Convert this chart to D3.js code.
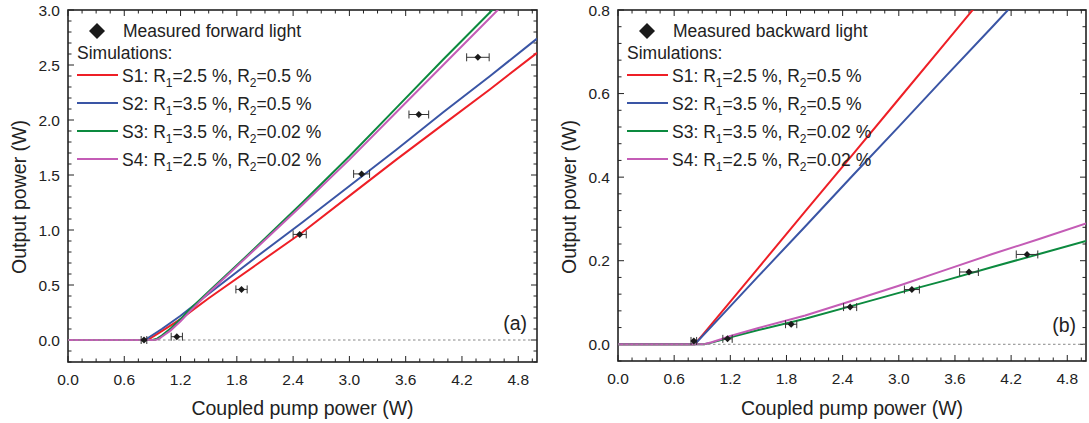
<!DOCTYPE html>
<html>
<head>
<meta charset="utf-8">
<script src="https://cdn.jsdelivr.net/npm/d3@7/dist/d3.min.js"></script>
<style>
  body { margin: 0; background: #fff; }
  svg { display: block; font-family: "Liberation Sans", Arial, sans-serif; }
</style>
</head>
<body>
<div id="chart"></div>
<script>
// ---- data ----
var seriesNames = ["S1", "S2", "S3", "S4"];
var seriesLabels = [
    ["2.5", "0.5"],
    ["3.5", "0.5"],
    ["3.5", "0.02"],
    ["2.5", "0.02"]
];
var seriesColors = ["#ee1f26", "#3a55a5", "#0c8a3f", "#c45cb6"];

// forward light (panel a), simulations
var fwdS1 = [[0, 0], [0.85, 0], [1.0, 0.08], [1.2, 0.19], [1.5, 0.38], [2.0, 0.68], [2.5, 0.98], [3.0, 1.31], [3.5, 1.64], [4.0, 1.96], [4.5, 2.28], [5.0, 2.61]];
var fwdS2 = [[0, 0], [0.82, 0], [1.0, 0.10], [1.2, 0.22], [1.5, 0.42], [2.0, 0.75], [2.5, 1.07], [3.0, 1.40], [3.5, 1.73], [4.0, 2.07], [4.5, 2.40], [5.0, 2.74]];
var fwdS3 = [[0, 0], [0.9, 0], [0.95, 0.012], [1.0, 0.04], [1.1, 0.11], [1.2, 0.19], [1.3, 0.28], [1.5, 0.44], [2.0, 0.84], [2.5, 1.25], [3.0, 1.67], [3.5, 2.11], [4.0, 2.55], [4.5, 2.98], [5.0, 3.41]];
var fwdS4 = [[0, 0], [0.93, 0], [0.97, 0.01], [1.0, 0.03], [1.1, 0.09], [1.2, 0.17], [1.3, 0.26], [1.5, 0.43], [2.0, 0.83], [2.5, 1.23], [3.0, 1.64], [3.5, 2.07], [4.0, 2.50], [4.5, 2.93], [5.0, 3.36]];
// forward light, measured (x, y, x error)
var fwdPump = [0.81, 1.16, 1.85, 2.47, 3.13, 3.74, 4.37];
var fwdPower = [0.0, 0.03, 0.46, 0.96, 1.51, 2.05, 2.57];
var fwdPumpErr = [0.03, 0.06, 0.06, 0.07, 0.085, 0.105, 0.12];

// backward light (panel b), simulations
var bwdS1 = [[0, 0], [0.82, 0], [1.0, 0.048], [1.5, 0.183], [2.0, 0.318], [2.5, 0.452], [3.0, 0.587], [3.5, 0.722], [4.0, 0.857]];
var bwdS2 = [[0, 0], [0.82, 0], [1.0, 0.043], [1.5, 0.163], [2.0, 0.282], [2.5, 0.402], [3.0, 0.521], [3.5, 0.641], [4.0, 0.760], [4.5, 0.880]];
var bwdS3 = [[0, 0], [0.92, 0], [1.0, 0.004], [1.1, 0.010], [1.2, 0.017], [1.5, 0.034], [2.0, 0.061], [2.5, 0.092], [3.0, 0.123], [3.5, 0.153], [4.0, 0.185], [4.5, 0.216], [5.0, 0.247]];
var bwdS4 = [[0, 0], [0.92, 0], [1.0, 0.005], [1.1, 0.012], [1.2, 0.020], [1.5, 0.039], [2.0, 0.069], [2.5, 0.104], [3.0, 0.140], [3.5, 0.178], [4.0, 0.216], [4.5, 0.252], [5.0, 0.289]];
// backward light, measured
var bwdPump = [0.81, 1.17, 1.85, 2.48, 3.14, 3.75, 4.37];
var bwdPower = [0.008, 0.013, 0.048, 0.089, 0.131, 0.173, 0.215];
var bwdPumpErr = [0.03, 0.05, 0.06, 0.07, 0.08, 0.10, 0.115];

var xMajor = [0.0, 0.6, 1.2, 1.8, 2.4, 3.0, 3.6, 4.2, 4.8];

var W = 1089, H = 423;
var svg = d3.select("#chart").append("svg")
    .attr("width", W)
    .attr("height", H);

function drawPanel(cfg){
    var x = d3.scaleLinear().domain([0, 5]).range([cfg.left, cfg.right]);
    var y = d3.scaleLinear().domain(cfg.yDomain).range([cfg.bottom, cfg.top]);
    var g = svg.append("g");

    var clipId = "clip_" + cfg.id;
    g.append("clipPath").attr("id", clipId)
        .append("rect")
        .attr("x", cfg.left).attr("y", cfg.top)
        .attr("width", cfg.right - cfg.left)
        .attr("height", cfg.bottom - cfg.top);

    // ticks, all pointing inwards
    var xMinor = d3.range(0, 5.001, 0.15);
    var yMinor = d3.range(cfg.yDomain[0], cfg.yDomain[1] + 1e-6, cfg.yMinorStep);
    var tk = g.append("g").attr("stroke", "#222").attr("stroke-width", 1);
    function isMajor(v, list){ return list.some(function(m){ return Math.abs(m - v) < 1e-6; }); }
    xMinor.forEach(function(v){
        var len = isMajor(v, xMajor) ? 6 : 3.5;
        tk.append("line").attr("x1", x(v)).attr("x2", x(v))
            .attr("y1", cfg.bottom).attr("y2", cfg.bottom - len);
        tk.append("line").attr("x1", x(v)).attr("x2", x(v))
            .attr("y1", cfg.top).attr("y2", cfg.top + len);
    });
    yMinor.forEach(function(v){
        var len = isMajor(v, cfg.yMajor) ? 6 : 3.5;
        tk.append("line").attr("y1", y(v)).attr("y2", y(v))
            .attr("x1", cfg.left).attr("x2", cfg.left + len);
        tk.append("line").attr("y1", y(v)).attr("y2", y(v))
            .attr("x1", cfg.right).attr("x2", cfg.right - len);
    });

    // frame
    g.append("rect")
        .attr("x", cfg.left).attr("y", cfg.top)
        .attr("width", cfg.right - cfg.left)
        .attr("height", cfg.bottom - cfg.top)
        .attr("fill", "none")
        .attr("stroke", "#222")
        .attr("stroke-width", 1.6);

    // tick labels
    g.selectAll(".xlab").data(xMajor).enter().append("text")
        .attr("x", d => x(d))
        .attr("y", cfg.bottom + 23)
        .attr("text-anchor", "middle")
        .attr("font-size", 15.5)
        .attr("fill", "#222")
        .text(d => d3.format(".1f")(d));
    g.selectAll(".ylab").data(cfg.yMajor).enter().append("text")
        .attr("x", cfg.left - 8)
        .attr("y", d => y(d) + 5.5)
        .attr("text-anchor", "end")
        .attr("font-size", 15.5)
        .attr("fill", "#222")
        .text(d => d3.format(".1f")(d));

    // axis titles
    g.append("text")
        .attr("x", (cfg.left + cfg.right) / 2)
        .attr("y", 415)
        .attr("text-anchor", "middle")
        .attr("font-size", 19.5)
        .attr("fill", "#222")
        .text("Coupled pump power (W)");
    g.append("text")
        .attr("transform", `translate(${cfg.left - 42},197) rotate(-90)`)
        .attr("text-anchor", "middle")
        .attr("font-size", 19.5)
        .attr("fill", "#222")
        .text("Output power (W)");

    // simulated curves
    var line = d3.line()
        .x(d => x(d[0]))
        .y(d => y(d[1]));
    var curves = g.append("g").attr("clip-path", `url(#${clipId})`);
    cfg.sims.forEach(function(s, i){
        curves.append("path")
            .attr("d", line(s))
            .attr("fill", "none")
            .attr("stroke", seriesColors[i])
            .attr("stroke-width", 2)
            .attr("stroke-linejoin", "round");
    });

    // zero line
    g.append("line")
        .attr("x1", cfg.left).attr("x2", cfg.right)
        .attr("y1", y(0)).attr("y2", y(0))
        .attr("stroke", "#888")
        .attr("stroke-width", 1)
        .attr("stroke-dasharray", "2.5,2.5");

    // measured points with horizontal error bars
    var pts = g.append("g");
    cfg.pump.forEach(function(p, i){
        var cx = x(p), cy = y(cfg.power[i]);
        var x0 = x(p - cfg.err[i]), x1 = x(p + cfg.err[i]);
        pts.append("line").attr("x1", x0).attr("x2", x1).attr("y1", cy).attr("y2", cy)
            .attr("stroke", "#333").attr("stroke-width", 1);
        [x0, x1].forEach(function(xx){
            pts.append("line").attr("x1", xx).attr("x2", xx).attr("y1", cy - 4).attr("y2", cy + 4)
                .attr("stroke", "#333").attr("stroke-width", 1);
        });
        pts.append("path")
            .attr("d", `M${cx},${cy - 3.5}L${cx + 3.5},${cy}L${cx},${cy + 3.5}L${cx - 3.5},${cy}Z`)
            .attr("fill", "#1a1a1a");
    });

    // panel label
    g.append("text")
        .attr("x", cfg.right - 10)
        .attr("y", cfg.labelY)
        .attr("text-anchor", "end")
        .attr("font-size", 19.5)
        .attr("fill", "#222")
        .text(cfg.label);

    // legend
    var lx = cfg.left + 9;
    var lg = g.append("g").attr("fill", "#222").attr("font-size", 17.5);
    var dx = lx + 20, dy = 31;
    lg.append("path")
        .attr("d", `M${dx},${dy - 8}L${dx + 8},${dy}L${dx},${dy + 8}L${dx - 8},${dy}Z`)
        .attr("fill", "#1a1a1a");
    lg.append("text").attr("x", lx + 46).attr("y", 37).text(cfg.measuredLabel);
    lg.append("text").attr("x", lx).attr("y", 59).text("Simulations:");
    seriesNames.forEach(function(n, i){
        var yy = 75 + i * 28;
        lg.append("line")
            .attr("x1", lx).attr("x2", lx + 41)
            .attr("y1", yy).attr("y2", yy)
            .attr("stroke", seriesColors[i])
            .attr("stroke-width", 2);
        var t = lg.append("text").attr("x", lx + 45).attr("y", yy + 7);
        t.append("tspan").text(n + ": R");
        t.append("tspan").attr("dy", 5).attr("font-size", 12).text("1");
        t.append("tspan").attr("dy", -5).text("=" + seriesLabels[i][0] + " %, R");
        t.append("tspan").attr("dy", 5).attr("font-size", 12).text("2");
        t.append("tspan").attr("dy", -5).text("=" + seriesLabels[i][1] + " %");
    });
}

drawPanel({
    id: "a",
    left: 68, right: 537, top: 10, bottom: 362,
    yDomain: [-0.2, 3.0],
    yMajor: [0.0, 0.5, 1.0, 1.5, 2.0, 2.5, 3.0],
    yMinorStep: 0.1,
    sims: [fwdS1, fwdS2, fwdS3, fwdS4],
    pump: fwdPump, power: fwdPower, err: fwdPumpErr,
    label: "(a)", labelY: 330,
    measuredLabel: "Measured forward light"
});

drawPanel({
    id: "b",
    left: 618, right: 1086, top: 10, bottom: 361,
    yDomain: [-0.04, 0.8],
    yMajor: [0.0, 0.2, 0.4, 0.6, 0.8],
    yMinorStep: 0.04,
    sims: [bwdS1, bwdS2, bwdS3, bwdS4],
    pump: bwdPump, power: bwdPower, err: bwdPumpErr,
    label: "(b)", labelY: 332,
    measuredLabel: "Measured backward light"
});
</script>
</body>
</html>
